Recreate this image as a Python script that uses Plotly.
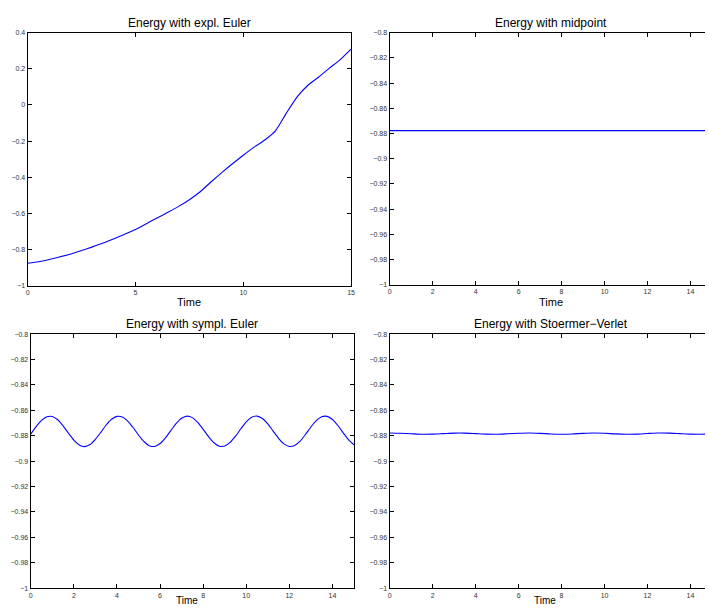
import plotly.graph_objects as go

# ---------------- data ----------------
t_euler = [0, 0.5, 1, 1.5, 2, 2.5, 3, 3.5, 4, 4.5, 5, 5.5, 6, 6.5, 7, 7.5,
           8, 8.5, 9, 9.5, 10, 10.5, 11, 11.5, 12, 12.5, 13, 13.5, 14, 14.5, 15]
e_euler = [-0.876, -0.867, -0.855, -0.840, -0.824, -0.805, -0.785, -0.764,
           -0.740, -0.715, -0.689, -0.657, -0.625, -0.594, -0.561, -0.524,
           -0.480, -0.426, -0.374, -0.325, -0.278, -0.233, -0.194, -0.142,
           -0.045, 0.045, 0.109, 0.155, 0.204, 0.251, 0.309]

t_mid = [0, 15]
e_mid = [-0.8777, -0.8777]

t_symp = [i * 0.25 for i in range(61)]
e_symp = [-0.8787, -0.8728, -0.8679, -0.8650, -0.8648, -0.8674, -0.8722, -0.8780,
          -0.8834, -0.8872, -0.8885, -0.8869, -0.8828, -0.8773, -0.8715, -0.8670,
          -0.8647, -0.8652, -0.8684, -0.8735, -0.8794, -0.8845, -0.8878, -0.8884,
          -0.8861, -0.8816, -0.8759, -0.8703, -0.8662, -0.8645, -0.8657, -0.8695,
          -0.8749, -0.8807, -0.8855, -0.8882, -0.8881, -0.8852, -0.8803, -0.8745,
          -0.8691, -0.8655, -0.8645, -0.8664, -0.8706, -0.8763, -0.8820, -0.8864,
          -0.8884, -0.8876, -0.8842, -0.8789, -0.8731, -0.8681, -0.8650, -0.8647,
          -0.8672, -0.8719, -0.8777, -0.8832, -0.8871]

t_sv = [i * 0.5 for i in range(31)]
e_sv = [-0.8778, -0.8780, -0.8784, -0.8788, -0.8787, -0.8783, -0.8779, -0.8779,
        -0.8783, -0.8787, -0.8788, -0.8784, -0.8780, -0.8778, -0.8781, -0.8786,
        -0.8788, -0.8786, -0.8781, -0.8778, -0.8780, -0.8785, -0.8788, -0.8787,
        -0.8782, -0.8778, -0.8779, -0.8783, -0.8787, -0.8788, -0.8784]

titles = ["Energy with expl. Euler", "Energy with midpoint",
          "Energy with sympl. Euler", "Energy with Stoermer\u2212Verlet"]
x_label = "Time"

xt_euler = [0, 5, 10, 15]
xt_other = [0, 2, 4, 6, 8, 10, 12, 14]
yt_euler = [0.4, 0.2, 0, -0.2, -0.4, -0.6, -0.8, -1]
yt_euler_txt = ["0.4", "0.2", "0", "\u22120.2", "\u22120.4", "\u22120.6", "\u22120.8", "\u22121"]
yt_other = [-0.8, -0.82, -0.84, -0.86, -0.88, -0.9, -0.92, -0.94, -0.96, -0.98, -1]
yt_other_txt = ["\u22120.8", "\u22120.82", "\u22120.84", "\u22120.86", "\u22120.88", "\u22120.9",
                "\u22120.92", "\u22120.94", "\u22120.96", "\u22120.98", "\u22121"]

# ---------------- figure ----------------
W, H = 709, 609
def px(x):
    return x / W
def py(y):
    return 1 - y / H

FONT = "Liberation Sans, Arial, Helvetica, sans-serif"
BLUE = "#0000ff"

fig = go.Figure()
series = [(t_euler, e_euler), (t_mid, e_mid), (t_symp, e_symp), (t_sv, e_sv)]
for i, (tx, ey) in enumerate(series):
    sfx = "" if i == 0 else str(i + 1)
    fig.add_trace(go.Scatter(x=tx, y=ey, mode="lines",
                             line=dict(color=BLUE, width=1.1, shape="spline", smoothing=0.6),
                             xaxis="x" + sfx, yaxis="y" + sfx, showlegend=False,
                             hoverinfo="skip"))

# pixel boxes: (left, right, top, bottom)
boxes = [(26, 352, 29, 285), (391, 709, 29, 284), (29, 355, 334, 591), (391, 709, 334, 591)]
xranges = [[0, 15], [0, 15 * (709 - 391) / (716 - 391)], [0, 15], [0, 15 * (709 - 391) / (716 - 391)]]
yranges = [[-1, 0.4], [-1, -0.8], [-1, -0.8], [-1, -0.8]]
bottom_label_x = [None, None, 187, 548]

common = dict(showgrid=False, zeroline=False, showline=True, linecolor="black",
              linewidth=1.3, ticks="inside", ticklen=4, tickwidth=1, tickcolor="black",
              tickfont=dict(family=FONT, size=7, color="#333333"))

layout = {}
annotations = []
for i, ((l, r, t, b), xr, yr) in enumerate(zip(boxes, xranges, yranges)):
    sfx = "" if i == 0 else str(i + 1)
    right_panel = i in (1, 3)
    bottom_row = i in (2, 3)
    xa = dict(common, domain=[px(l), px(r)], range=xr, anchor="y" + sfx,
              tickmode="array", tickvals=xt_euler if i == 0 else xt_other,
              mirror="ticks")
    ya = dict(common, domain=[py(b), py(t)], range=yr, anchor="x" + sfx,
              tickmode="array",
              tickvals=yt_euler if i == 0 else yt_other,
              ticktext=yt_euler_txt if i == 0 else yt_other_txt,
              mirror=False if right_panel else "ticks")
    layout["xaxis" + sfx] = xa
    layout["yaxis" + sfx] = ya
    cx = (l + (716 if right_panel else r)) / 2
    annotations.append(dict(text=titles[i], x=px(cx), y=py(t - 10), xref="paper", yref="paper",
                            xanchor="center", yanchor="middle", showarrow=False,
                            font=dict(family=FONT, size=12, color="black")))
    if bottom_row:
        annotations.append(dict(text=x_label, x=px(bottom_label_x[i]), y=0, xref="paper",
                                yref="paper", xanchor="center", yanchor="bottom",
                                showarrow=False, borderpad=0, yshift=-1,
                                font=dict(family=FONT, size=10, color="black")))
    else:
        annotations.append(dict(text=x_label, x=px(cx), y=py(301), xref="paper", yref="paper",
                                xanchor="center", yanchor="middle", showarrow=False,
                                font=dict(family=FONT, size=11, color="black")))

fig.update_layout(**layout)
fig.update_layout(width=W, height=H, margin=dict(l=0, r=0, t=0, b=0),
                  paper_bgcolor="white", plot_bgcolor="white",
                  annotations=annotations, showlegend=False)

fig.write_html("out.html", config={"displayModeBar": False},
               post_script="document.body.style.margin='0px';document.body.style.overflow='hidden';")
